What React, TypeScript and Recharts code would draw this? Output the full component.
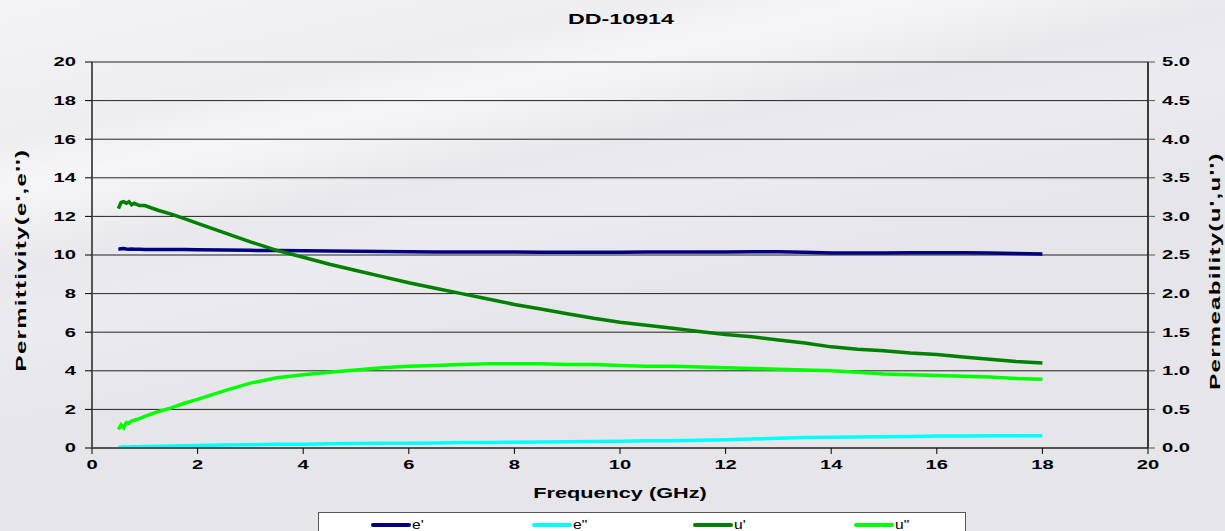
import React from 'react';
import { LineChart, Line, XAxis, YAxis, CartesianGrid, Legend } from 'recharts';

// frequency points (GHz)
const freq = [0.5, 0.55, 0.6, 0.65, 0.7, 0.75, 0.8, 0.9, 1, 1.25, 1.5, 1.75, 2, 2.5, 3, 3.5, 4, 4.5, 5, 5.5, 6, 6.5, 7, 7.5, 8, 8.5, 9, 9.5, 10, 10.5, 11, 11.5, 12, 12.5, 13, 13.5, 14, 14.5, 15, 15.5, 16, 16.5, 17, 17.5, 18];

// permittivity (left axis)
const ePrime = [10.30, 10.32, 10.33, 10.31, 10.30, 10.31, 10.30, 10.30, 10.29, 10.29, 10.28, 10.28, 10.27, 10.26, 10.24, 10.23, 10.22, 10.21, 10.20, 10.18, 10.17, 10.16, 10.16, 10.15, 10.15, 10.14, 10.14, 10.14, 10.14, 10.15, 10.15, 10.16, 10.16, 10.17, 10.17, 10.14, 10.10, 10.10, 10.11, 10.12, 10.12, 10.12, 10.11, 10.08, 10.05];
const eDouble = [0.03, 0.05, 0.06, 0.05, 0.05, 0.06, 0.07, 0.07, 0.08, 0.09, 0.11, 0.12, 0.13, 0.15, 0.17, 0.19, 0.20, 0.22, 0.23, 0.24, 0.25, 0.26, 0.28, 0.29, 0.30, 0.31, 0.32, 0.34, 0.35, 0.37, 0.38, 0.40, 0.43, 0.46, 0.50, 0.54, 0.56, 0.57, 0.58, 0.60, 0.62, 0.62, 0.63, 0.63, 0.64];

// permeability (right axis)
const uPrime = [3.10, 3.18, 3.19, 3.17, 3.19, 3.15, 3.17, 3.14, 3.14, 3.08, 3.03, 2.97, 2.91, 2.79, 2.67, 2.56, 2.47, 2.38, 2.30, 2.22, 2.14, 2.07, 2.00, 1.93, 1.86, 1.80, 1.74, 1.68, 1.63, 1.59, 1.55, 1.51, 1.47, 1.44, 1.40, 1.36, 1.31, 1.28, 1.26, 1.23, 1.21, 1.18, 1.15, 1.12, 1.10];
const uDouble = [0.24, 0.30, 0.26, 0.33, 0.32, 0.35, 0.36, 0.38, 0.41, 0.47, 0.52, 0.58, 0.63, 0.74, 0.84, 0.91, 0.95, 0.98, 1.01, 1.04, 1.06, 1.07, 1.08, 1.09, 1.09, 1.09, 1.08, 1.08, 1.07, 1.06, 1.06, 1.05, 1.04, 1.03, 1.02, 1.01, 1.00, 0.98, 0.96, 0.95, 0.94, 0.93, 0.92, 0.90, 0.89];

const seriesNames = ["e'", 'e"', "u'", 'u"'];
const xTicks = [0, 2, 4, 6, 8, 10, 12, 14, 16, 18, 20];
const leftTicks = [0, 2, 4, 6, 8, 10, 12, 14, 16, 18, 20];
const rightTicks = [0, 0.5, 1, 1.5, 2, 2.5, 3, 3.5, 4, 4.5, 5];

const data = freq.map((f, i) => ({
  f,
  ep: ePrime[i],
  epp: eDouble[i],
  up: uPrime[i],
  upp: uDouble[i],
}));

const font = '"Liberation Sans", Arial, sans-serif';
const STRETCH = 1.55;

// the original has wide, horizontally stretched bold text
const WideTick = (props: any) => {
  const { x, y, payload, textAnchor, dy, fmt } = props;
  const label = fmt ? fmt(payload.value) : String(payload.value);
  return (
    <text
      x={x}
      y={y}
      dy={dy}
      textAnchor={textAnchor}
      fontFamily={font}
      fontSize={13}
      fontWeight="bold"
      fill="#000"
      transform={`translate(${x} 0) scale(${STRETCH} 1) translate(${-x} 0)`}
    >
      {label}
    </text>
  );
};

const LegendBox = (props: any) => {
  const items = [...(props.payload || [])].sort(
    (a: any, b: any) => seriesNames.indexOf(a.value) - seriesNames.indexOf(b.value)
  );
  return (
    <div
      style={{
        width: 646,
        height: 24,
        background: '#fff',
        border: '1px solid #555',
        display: 'flex',
        fontFamily: font,
        fontSize: 12,
        color: '#000',
      }}
    >
      {items.map((it: any) => (
        <div key={it.value} style={{ width: 161, display: 'flex', alignItems: 'center', paddingLeft: 52, boxSizing: 'border-box' }}>
          <span style={{ display: 'inline-block', width: 40, height: 4, borderRadius: 2, background: it.color }} />
          <span style={{ marginLeft: 1, display: 'inline-block', transform: 'scaleX(1.3)', transformOrigin: 'left center' }}>{it.value}</span>
        </div>
      ))}
    </div>
  );
};

const textBase: React.CSSProperties = {
  position: 'absolute',
  fontFamily: font,
  fontWeight: 'bold',
  whiteSpace: 'nowrap',
  color: '#000',
};

export default function App() {
  return (
    <div
      style={{
        position: 'absolute',
        left: 0,
        top: 0,
        width: 1225,
        height: 531,
        overflow: 'hidden',
        background:
          'linear-gradient(168deg, #f3f3f5 0%, #eeeef1 18%, #f6f6f8 24%, #e9e9ed 34%, #ececf0 42%, #e6e6ea 55%, #e5e5ea 100%)',
      }}
    >
      <div style={{ ...textBase, left: 621, top: 18, fontSize: 15, transform: 'translate(-50%, -50%) scaleX(1.55)' }}>
        DD-10914
      </div>
      <div style={{ ...textBase, left: 620, top: 493, fontSize: 14, transform: 'translate(-50%, -50%) scaleX(1.55)' }}>
        Frequency (GHz)
      </div>
      <div
        style={{
          ...textBase,
          left: 20,
          top: 260,
          fontSize: 15,
          letterSpacing: 0.8,
          transform: 'translate(-50%, -50%) rotate(-90deg) scaleX(1.6)',
        }}
      >
        Permittivity(e',e'')
      </div>
      <div
        style={{
          ...textBase,
          left: 1214,
          top: 271,
          fontSize: 15,
          letterSpacing: 0.8,
          transform: 'translate(-50%, -50%) rotate(-90deg) scaleX(1.6)',
        }}
      >
        Permeability(u',u'')
      </div>
      <LineChart width={1225} height={531} data={data} margin={{ top: 62, right: 0, left: 0, bottom: 9 }}>
        <CartesianGrid yAxisId="left" vertical={false} stroke="#000" strokeOpacity={0.85} />
        <XAxis
          dataKey="f"
          type="number"
          domain={[0, 20]}
          ticks={xTicks}
          interval={0}
          height={50}
          tick={<WideTick dy={13} />}
          tickSize={6}
          axisLine={{ stroke: '#555', strokeWidth: 2 }}
          tickLine={{ stroke: '#000' }}
        />
        <YAxis
          yAxisId="left"
          domain={[0, 20]}
          ticks={leftTicks}
          interval={0}
          width={92}
          tick={<WideTick dy={4.5} />}
          tickSize={7}
          tickMargin={9}
          axisLine={{ stroke: '#555', strokeWidth: 2 }}
          tickLine={{ stroke: '#000' }}
        />
        <YAxis
          yAxisId="right"
          orientation="right"
          domain={[0, 5]}
          ticks={rightTicks}
          interval={0}
          width={77}
          tick={<WideTick dy={4.5} fmt={(v: number) => v.toFixed(1)} />}
          tickSize={7}
          tickMargin={7}
          axisLine={{ stroke: '#000', strokeWidth: 1.5 }}
          tickLine={{ stroke: '#555' }}
        />
        <Legend
          verticalAlign="bottom"
          content={<LegendBox />}
          wrapperStyle={{ top: 512, bottom: 'auto', left: 318, width: 648, height: 24 }}
        />
        <Line yAxisId="left" dataKey="ep" name={seriesNames[0]} stroke="#000080" strokeWidth={3.5} dot={false} isAnimationActive={false} />
        <Line yAxisId="left" dataKey="epp" name={seriesNames[1]} stroke="#00ffff" strokeWidth={3.5} dot={false} isAnimationActive={false} />
        <Line yAxisId="right" dataKey="up" name={seriesNames[2]} stroke="#008000" strokeWidth={3.5} dot={false} isAnimationActive={false} />
        <Line yAxisId="right" dataKey="upp" name={seriesNames[3]} stroke="#00ff00" strokeWidth={3.5} dot={false} isAnimationActive={false} />
      </LineChart>
    </div>
  );
}
